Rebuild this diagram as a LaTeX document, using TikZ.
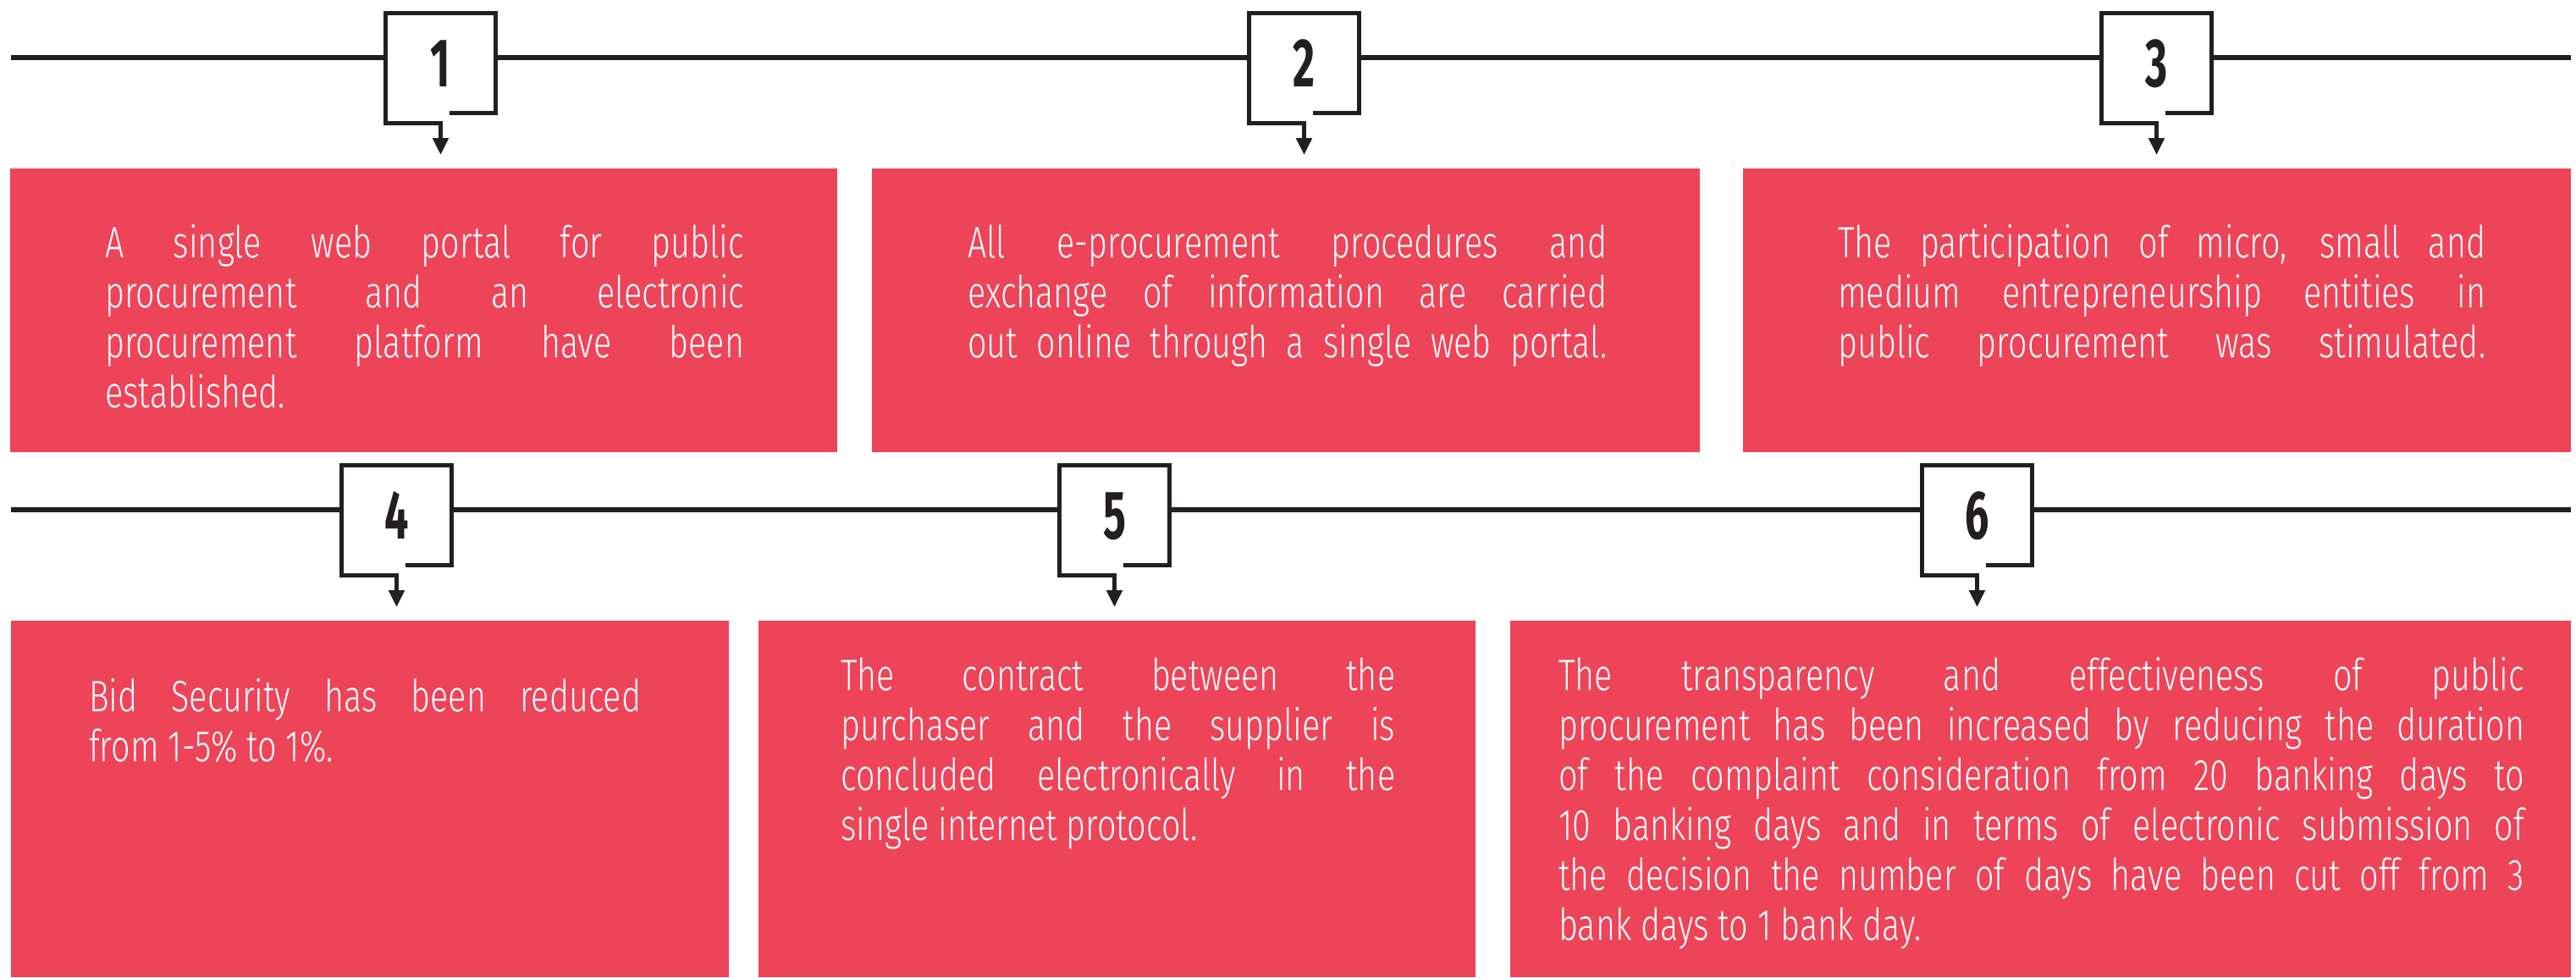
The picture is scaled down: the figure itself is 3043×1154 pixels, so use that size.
\documentclass[tikz,border=0pt]{standalone}
\usepackage{fontspec}
\setmainfont{Fira Sans}
\IfFontExistsTF{Fira Sans Light}{\newfontfamily\bodyfont[FakeStretch=0.76]{Fira Sans Light}}{\newfontfamily\bodyfont[FakeStretch=0.76]{Fira Sans}}
\newfontfamily\numfont[FakeStretch=0.62]{Fira Sans}
\usetikzlibrary{calc,arrows.meta}
\definecolor{ink}{HTML}{231F20}
\definecolor{panel}{RGB}{238,68,90}
\newcommand\panelsetup{\tolerance=10000\hbadness=10000\hfuzz=20pt\hyphenpenalty=10000\exhyphenpenalty=10000\emergencystretch=0pt}
\tikzset{
  timeline/.style={draw=ink,line width=6pt},
  pointer/.style={draw=ink,line width=5pt,line join=miter,-{Triangle[width=18pt,length=20pt]},shorten >=16pt},
  panelbox/.style={fill=panel,draw=none,anchor=north west,inner sep=0pt},
  paneltext/.style={anchor=base west,inner sep=0pt,align=justify,text=white,font=\bodyfont\fontsize{52}{59}\selectfont,execute at begin node=\panelsetup},
  numlabel/.style={anchor=base,inner sep=0pt,text=ink,font=\numfont\bfseries\fontsize{81}{81}\selectfont},
}
\begin{document}
\begin{tikzpicture}[x=1pt,y=-1pt]
\useasboundingbox (0,0) rectangle (3043,1154);
% panels
\node[panelbox,minimum width=977pt,minimum height=335pt] (r1) at (12,199) {};
\node[panelbox,minimum width=978pt,minimum height=335pt] (r2) at (1030,199) {};
\node[panelbox,minimum width=978pt,minimum height=335pt] (r3) at (2059,199) {};
\node[panelbox,minimum width=848pt,minimum height=421pt] (r4) at (13,733) {};
\node[panelbox,minimum width=847pt,minimum height=421pt] (r5) at (896,733) {};
\node[panelbox,minimum width=1253pt,minimum height=421pt] (r6) at (1784,733) {};
% timelines
\coordinate (L1) at (13,68);
\coordinate (R1) at (3037,68);
\coordinate (L2) at (13,602);
\coordinate (R2) at (3037,602);
\draw[timeline] (L1) -- (R1);
\draw[timeline] (L2) -- (R2);
% numbered brackets
\foreach \n/\cx/\cy/\r in {1/520.5/68/r1,2/1540.5/68/r2,3/2547.5/68/r3,4/468.5/602/r4,5/1316.5/602/r5,6/2335.5/602/r6}{
  \coordinate (c\n) at (\cx,\cy);
  \fill[white] ($(c\n)+(-65,-52.5)$) rectangle ($(c\n)+(65,65.5)$);
  \draw[pointer] ($(c\n)+(10,65.5)$) -- ++(55,0) -- ++(0,-118) -- ++(-130,0) -- ++(0,130) -- ++(65,0) coordinate (s\n) -- (s\n |- \r.north);
  \node[numlabel] (n\n) at ($(c\n)+(0,34)$) {\n};
}
% texts
\node[paneltext,text width=755pt] (t1) at (124,304) {A single web portal for public\linebreak procurement and an electronic\linebreak procurement platform have been\linebreak established.};
\node[paneltext,text width=755pt] (t2) at (1143,304) {All e-procurement procedures and\linebreak exchange of information are carried\linebreak \makebox[\linewidth][s]{out online through a single web portal.}};
\node[paneltext,text width=765pt] (t3) at (2171,304) {The participation of micro, small and\linebreak medium entrepreneurship entities in\linebreak \makebox[\linewidth][s]{public procurement was stimulated.}};
\node[paneltext,text width=652pt] (t4) at (105,840) {Bid Security has been reduced\linebreak from 1-5\% to 1\%.};
\node[paneltext,text width=655pt] (t5) at (993,815) {The contract between the\linebreak purchaser and the supplier is\linebreak concluded electronically in the\linebreak single internet protocol.};
\node[paneltext,text width=1141pt] (t6) at (1841,815) {The transparency and effectiveness of public\linebreak procurement has been increased by reducing the duration\linebreak of the complaint consideration from 20 banking days to\linebreak 10 banking days and in terms of electronic submission of\linebreak the decision the number of days have been cut off from 3\linebreak bank days to 1 bank day.};
\end{tikzpicture}
\end{document}
